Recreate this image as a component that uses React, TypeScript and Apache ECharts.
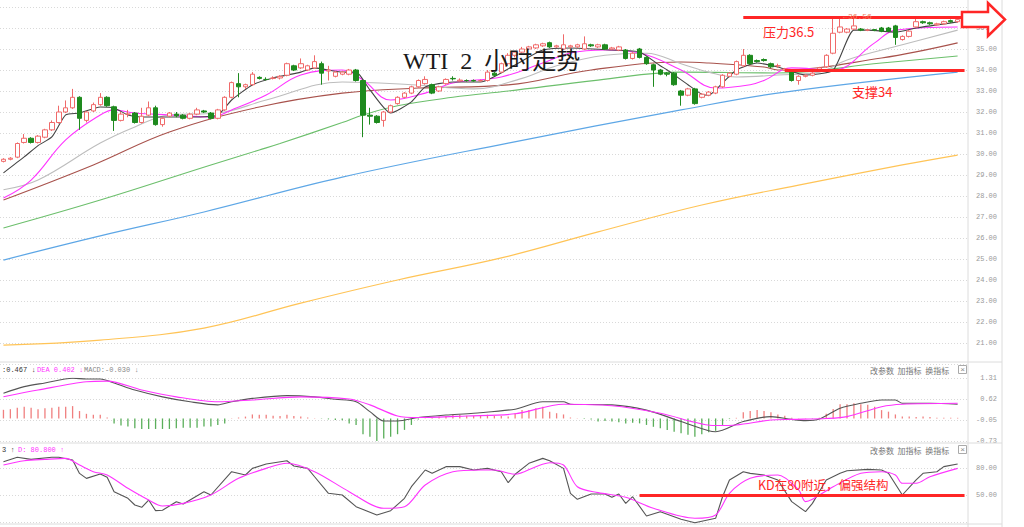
import React, { useEffect, useRef } from "react";
import * as echarts from "echarts";

// ---------- data ----------
const categories: string[] = Array.from({ length: 140 }, (_, i) => String(i));

// [open, close, low, high]
const candles: number[][] = [
  [29.65, 29.75, 29.6, 29.8], [29.75, 29.8, 29.7, 29.85], [29.85, 30.5, 29.8, 30.55], [30.55, 30.75, 30.5, 30.95],
  [30.75, 30.55, 30.5, 30.8], [30.55, 30.85, 30.5, 30.9], [30.8, 31.15, 30.75, 31.2], [31.15, 31.5, 31.1, 31.6],
  [31.5, 32.0, 31.45, 32.3], [32.0, 32.2, 31.95, 32.55], [32.2, 32.7, 32.15, 33.1], [32.7, 31.7, 31.15, 32.75],
  [31.6, 32.0, 31.5, 32.05], [32.05, 32.35, 32.0, 32.45], [32.35, 32.7, 32.3, 32.9], [32.7, 32.3, 32.25, 32.75],
  [32.25, 31.6, 31.1, 32.3], [31.6, 31.9, 31.55, 32.0], [31.9, 31.9, 31.75, 32.1], [31.95, 31.5, 31.45, 32.0],
  [31.5, 31.8, 31.45, 32.2], [31.85, 32.2, 31.8, 32.5], [32.2, 31.4, 31.35, 32.3], [31.4, 31.7, 31.3, 31.75],
  [31.8, 31.95, 31.75, 32.0], [31.9, 31.82, 31.75, 32.0], [31.85, 31.7, 31.65, 31.9], [31.7, 31.9, 31.65, 31.95],
  [31.9, 32.1, 31.85, 32.2], [32.05, 32.0, 31.95, 32.1], [31.95, 31.7, 31.65, 32.0], [31.7, 32.1, 31.65, 32.15],
  [32.1, 32.7, 32.05, 32.75], [32.7, 33.4, 32.65, 33.45], [33.35, 33.2, 32.7, 33.85], [33.2, 33.3, 33.1, 33.35],
  [33.3, 33.8, 33.25, 33.9], [33.65, 33.6, 33.55, 33.7], [33.55, 33.55, 33.5, 33.65], [33.6, 33.62, 33.55, 33.7],
  [33.62, 33.7, 33.55, 33.75], [33.75, 34.3, 33.7, 34.35], [34.2, 34.0, 33.95, 34.25], [34.1, 34.3, 34.05, 34.55],
  [34.0, 34.2, 33.95, 34.25], [34.1, 34.4, 34.05, 34.7], [34.3, 33.85, 33.3, 34.4], [33.95, 34.0, 33.5, 34.2],
  [33.7, 33.9, 33.65, 33.95], [33.8, 33.9, 33.75, 33.95], [33.8, 34.0, 33.75, 34.05], [34.0, 33.5, 33.45, 34.05],
  [33.5, 31.85, 30.8, 33.55], [31.85, 31.8, 31.4, 32.2], [31.8, 31.5, 31.45, 31.85], [31.6, 32.0, 31.3, 32.05],
  [32.0, 32.3, 31.95, 32.35], [32.4, 32.7, 32.35, 32.75], [32.7, 32.9, 32.65, 32.95], [32.9, 33.2, 32.85, 33.25],
  [33.2, 33.5, 33.15, 33.55], [33.35, 33.55, 33.3, 33.7], [33.3, 32.9, 32.85, 33.35], [33.0, 33.2, 32.95, 33.25],
  [33.35, 33.55, 33.3, 33.6], [33.6, 33.58, 33.5, 33.7], [33.48, 33.52, 33.45, 33.6], [33.5, 33.5, 33.45, 33.55],
  [33.5, 33.48, 33.45, 33.55], [33.48, 33.5, 33.45, 33.55], [33.5, 33.9, 33.45, 34.0], [33.85, 33.75, 33.7, 33.9],
  [33.9, 34.3, 33.85, 34.35], [34.3, 34.7, 34.25, 34.8], [34.7, 34.85, 34.6, 34.9], [34.85, 35.0, 34.8, 35.1],
  [35.0, 35.1, 34.95, 35.15], [35.05, 35.2, 35.0, 35.25], [35.15, 35.25, 35.1, 35.3], [35.3, 35.1, 35.05, 35.35],
  [35.1, 35.15, 35.05, 35.2], [35.0, 35.2, 34.95, 35.7], [35.1, 35.15, 35.05, 35.2], [35.1, 35.2, 35.05, 35.25],
  [35.0, 35.25, 34.95, 35.6], [35.2, 35.15, 35.1, 35.25], [35.1, 35.2, 35.05, 35.25], [35.2, 35.0, 34.95, 35.25],
  [35.0, 35.05, 34.95, 35.1], [34.95, 35.1, 34.9, 35.15], [34.95, 34.55, 34.5, 35.0], [34.55, 34.8, 34.5, 34.85],
  [35.0, 34.6, 34.55, 35.05], [34.6, 34.3, 34.25, 34.65], [34.25, 34.0, 33.2, 34.3], [34.0, 33.8, 33.75, 34.05],
  [33.85, 33.8, 33.7, 33.9], [33.85, 33.3, 33.25, 33.9], [33.0, 32.8, 32.3, 33.05], [32.8, 33.1, 32.75, 33.15],
  [33.1, 32.4, 32.35, 33.15], [32.7, 32.85, 32.65, 32.9], [32.8, 32.95, 32.75, 33.0], [32.9, 33.2, 32.85, 33.25],
  [33.2, 33.75, 33.15, 33.8], [33.7, 33.85, 33.65, 33.9], [33.8, 34.4, 33.75, 34.45], [34.2, 34.7, 34.15, 35.0],
  [34.7, 34.3, 34.25, 34.75], [34.45, 34.4, 34.35, 34.5], [34.5, 34.45, 34.4, 34.55], [34.3, 34.15, 34.1, 34.35],
  [34.2, 34.2, 34.1, 34.3], [34.0, 34.05, 33.95, 34.1], [33.9, 33.5, 33.45, 33.95], [33.5, 33.7, 33.3, 33.75],
  [33.7, 33.75, 33.65, 33.8], [33.75, 33.85, 33.7, 33.9], [33.95, 34.1, 33.9, 34.15], [34.15, 34.7, 34.1, 34.75],
  [34.8, 35.75, 34.75, 36.45], [35.8, 36.05, 35.75, 36.56], [35.8, 35.95, 35.75, 36.0], [35.95, 36.1, 35.9, 36.45],
  [35.95, 35.9, 35.85, 36.0], [35.9, 35.9, 35.85, 35.95], [35.92, 35.9, 35.85, 35.95], [36.0, 35.85, 35.8, 36.05],
  [36.0, 35.85, 35.8, 36.05], [36.1, 35.55, 35.2, 36.15], [35.45, 35.6, 35.4, 35.65], [35.6, 35.85, 35.55, 35.9],
  [36.05, 36.3, 36.0, 36.5], [36.3, 36.25, 36.2, 36.35], [36.25, 36.2, 36.15, 36.3], [36.15, 36.2, 36.1, 36.25],
  [36.2, 36.3, 36.15, 36.35], [36.35, 36.3, 36.25, 36.4], [36.3, 36.4, 36.25, 36.45],
];

// moving averages, [candle index, value]
const ma5 = [[0,29.1],[3,29.86],[5,30.4],[7,30.81],[9,31.86],[11,31.95],[14,32.24],[16,32.19],[18,31.86],[20,31.76],[23,31.76],[27,31.76],[31,31.86],[33,32.57],[36,33.29],[39,33.62],[43,33.9],[45,34.1],[49,33.9],[51,33.9],[53,33.05],[56,31.95],[59,32.48],[61,33.19],[65,33.43],[69,33.43],[74,34.24],[78,34.95],[82,35.05],[88,34.95],[92,34.86],[95,34.2],[96,34.0],[99,33.3],[101,32.85],[102,32.8],[104,33.38],[106,34.0],[109,34.33],[112,34.14],[116,33.76],[120,34.0],[123,35.9],[125,35.9],[129,35.8],[132,36.0],[138,36.29]];
const ma10 = [[0,27.9],[4,28.76],[9,30.67],[14,31.86],[16,32.1],[19,31.95],[24,31.86],[30,31.76],[33,32.1],[38,32.81],[43,33.76],[49,34.0],[52,33.52],[56,32.57],[61,32.9],[65,33.38],[72,33.67],[78,34.33],[82,34.81],[87,34.95],[92,34.81],[98,34.0],[103,33.14],[108,33.3],[110,33.5],[114,34.1],[120,34.0],[126,35.29],[129,35.9],[138,36.05]];
const ma20 = [[0,28.3],[5,28.76],[14,30.52],[19,31.29],[24,31.86],[31,31.95],[38,32.57],[49,33.43],[59,33.3],[68,33.1],[75,33.6],[80,34.2],[87,34.7],[93,34.8],[98,34.3],[102,33.9],[106,33.67],[112,33.76],[118,33.9],[122,34.48],[130,35.2],[138,35.9]];
const ma30 = [[0,27.81],[13,29.48],[24,31.05],[37,32.24],[49,32.9],[60,33.14],[73,33.29],[85,34.0],[98,34.38],[102,34.33],[110,34.14],[112,34.0],[127,34.57],[138,35.29]];
const ma60 = [[0,26.48],[14,27.81],[30,29.48],[37,30.19],[40,30.5],[49,31.5],[52,31.86],[57,32.3],[65,32.7],[73,33.0],[86,33.52],[98,33.9],[112,33.86],[127,34.33],[138,34.67]];
const ma120 = [[0,24.95],[14,26.1],[29,27.24],[49,28.9],[73,30.52],[98,32.1],[113,32.95],[138,33.9]];
const ma250 = [[0,20.9],[14,21.14],[29,21.71],[43,22.9],[57,24.0],[72,25.05],[86,26.29],[101,27.57],[115,28.52],[130,29.48],[138,29.95]];

const mainTickMin = 20;
const mainTickMax = 37;

// MACD panel
const macdTicks = ["-0.73", "-0.05", "0.62", "1.31"];
const macdHist = [
  0.28,0.30,0.35,0.38,0.35,0.30,0.33,0.35,0.38,0.38,0.40,0.24,0.15,0.12,0.12,0.03,-0.16,-0.23,-0.26,-0.32,
  -0.34,-0.34,-0.34,-0.34,-0.34,-0.32,-0.30,-0.30,-0.30,-0.26,-0.26,-0.21,-0.16,0.01,0.03,0.06,0.13,0.12,0.12,0.09,
  0.08,0.12,0.08,0.06,0.03,0.01,-0.01,-0.03,-0.05,-0.06,-0.16,-0.21,-0.51,-0.59,-0.73,-0.65,-0.59,-0.51,-0.37,-0.21,
  -0.03,0.01,0.03,0.06,0.08,0.12,0.12,0.09,0.08,0.09,0.12,0.08,0.08,0.06,0.17,0.27,0.27,0.33,0.38,0.22,
  0.17,0.13,0.03,0.01,-0.02,-0.03,-0.10,-0.08,-0.10,-0.12,-0.16,-0.14,-0.16,-0.21,-0.27,-0.32,-0.37,-0.43,-0.48,-0.53,
  -0.59,-0.51,-0.45,-0.40,-0.21,-0.02,0.02,0.20,0.24,0.27,0.24,0.20,0.13,0.09,0.02,0.01,0.01,-0.01,0.02,0.15,
  0.31,0.46,0.46,0.49,0.46,0.44,0.38,0.27,0.22,0.13,0.06,0.06,0.05,0.06,0.05,0.02,0.02,0.02,0.02,
];
const dif = [[0,0.815],[3,1.03],[6,1.15],[10,1.30],[12,1.28],[14,1.28],[16,1.15],[19,0.92],[23,0.70],[27,0.54],[31,0.44],[33,0.54],[36,0.65],[41,0.74],[45,0.70],[48,0.62],[51,0.54],[53,0.22],[55,-0.08],[57,-0.08],[60,0.03],[64,0.11],[68,0.17],[74,0.30],[78,0.54],[81,0.54],[82,0.46],[88,0.44],[93,0.27],[98,-0.10],[102,-0.40],[103,-0.43],[107,-0.10],[111,0.06],[114,-0.03],[116,-0.07],[118,-0.02],[121,0.33],[124,0.49],[127,0.60],[129,0.60],[130,0.49],[134,0.49],[138,0.46]];
const dea = [[0,0.705],[5,0.92],[12,1.19],[15,1.21],[20,0.92],[25,0.70],[31,0.54],[36,0.60],[43,0.70],[50,0.63],[53,0.44],[57,0.08],[60,0.03],[67,0.08],[74,0.15],[81,0.46],[88,0.41],[95,0.17],[103,-0.23],[106,-0.21],[111,-0.05],[114,-0.03],[119,0.0],[122,0.06],[127,0.38],[130,0.46],[138,0.49]];

// KD panel
const kdLabels = [50, 80];
const kLine = [[0,87],[2,91.9],[4,89.6],[7,91.9],[8,91.9],[10,88.9],[11,74],[12,68.5],[14,73.3],[15,69.7],[16,53.7],[18,46.3],[19,38.9],[20,36.3],[21,44.4],[22,32.6],[23,33],[25,42.6],[26,40],[29,53.7],[30,50],[33,75.9],[35,72.2],[36,79.6],[38,84.4],[41,88.1],[42,82.2],[44,79.6],[45,70.3],[47,51.9],[49,50],[51,37],[54,27.8],[56,32.6],[58,46.3],[59,59.2],[61,77.8],[62,74.1],[64,81.5],[66,81.5],[68,77.8],[70,79.6],[72,75.9],[73,63.7],[74,73],[76,85.2],[78,90.7],[79,88.1],[81,79.6],[82,51.9],[83,45.2],[85,51.1],[87,51.1],[88,47.4],[89,51.1],[90,40.7],[91,48.1],[93,26.7],[95,31.5],[98,23],[100,19.2],[103,24.1],[104,48.1],[105,66.7],[107,75.9],[108,74],[110,72.2],[112,66.7],[114,42.6],[116,31.5],[117,40.7],[119,66.7],[121,74.1],[122,77],[125,78.5],[127,77.8],[128,74.1],[130,50],[132,66.7],[133,74.1],[135,75.9],[136,81.5],[138,84.4]];
const dLine = [[0,83.3],[3,88.1],[6,89.6],[9,90.7],[11,83.3],[13,75.9],[15,72.2],[18,57.4],[21,44.4],[23,37.8],[26,40.7],[30,50],[34,68.5],[38,79.6],[41,85.2],[45,75.9],[50,53.7],[55,35.2],[58,37],[61,61.1],[65,75.9],[69,77.8],[71,77.8],[74,73],[77,81.5],[79,85.9],[81,83.3],[83,59.2],[86,52.6],[90,47.4],[94,35.2],[100,24.1],[103,27.8],[105,51.9],[108,68.5],[112,72.2],[115,55.6],[116,42.6],[117,45.2],[120,59.2],[124,74.1],[127,75.9],[129,72.2],[130,63],[132,63],[134,70.3],[138,79.6]];

// annotation levels
const resistance = 36.5;
const support = 34;
const kdLevel = 50;

// ---------- styling ----------
const RED = "#ff2626";
const GRID_LEFT = -1.5;
const GRID_RIGHT = 56;
const monoFont = "'Liberation Mono', 'DejaVu Sans Mono', monospace";
const cjkFont = "'Noto Sans CJK SC', sans-serif";
const splitStyle = { lineStyle: { color: "#d9d9d9", type: [1, 2] as any, width: 1 } };

function maSeries(name: string, data: number[][], color: string, width = 1, smooth: number | boolean = 0.4) {
  return {
    name,
    type: "line",
    xAxisIndex: 0,
    yAxisIndex: 0,
    data,
    symbol: "none",
    smooth,
    lineStyle: { color, width },
    silent: true,
    z: 3,
  };
}

function buildOption(): any {
  const xAxis = [0, 1, 2].map((g) => ({
    type: "category",
    gridIndex: g,
    data: categories,
    boundaryGap: true,
    axisLine: { show: false },
    axisTick: { show: false },
    axisLabel: { show: false },
    splitLine: { show: false },
  }));

  const labelBase = { fontSize: 7, color: "#999", fontFamily: monoFont, align: "right", margin: 29 };

  const yAxis = [
    {
      type: "value",
      gridIndex: 0,
      position: "right",
      min: mainTickMin,
      max: mainTickMax,
      interval: 1,
      axisLine: { show: false },
      axisTick: { show: false },
      axisLabel: {
        ...labelBase,
        formatter: (v: number) => (v > mainTickMin && v < mainTickMax ? v.toFixed(2) : ""),
      },
      splitLine: splitStyle,
    },
    {
      type: "value",
      gridIndex: 1,
      position: "right",
      min: -0.73,
      max: 1.31,
      interval: 0.68,
      axisLine: { show: false },
      axisTick: { show: false },
      axisLabel: {
        ...labelBase,
        formatter: (v: number) => {
          const idx = Math.round((v + 0.73) / 0.68);
          return macdTicks[idx] ?? "";
        },
      },
      splitLine: splitStyle,
    },
    {
      type: "value",
      gridIndex: 2,
      position: "right",
      min: 20,
      max: 110,
      interval: 30,
      axisLine: { show: false },
      axisTick: { show: false },
      axisLabel: {
        ...labelBase,
        formatter: (v: number) => (kdLabels.includes(Math.round(v)) ? v.toFixed(2) : ""),
      },
      splitLine: splitStyle,
    },
  ];

  const series: any[] = [
    {
      name: "K线",
      type: "candlestick",
      xAxisIndex: 0,
      yAxisIndex: 0,
      data: candles,
      barWidth: 5,
      z: 4,
      itemStyle: {
        color: "#ffffff",
        color0: "#1e8a1e",
        borderColor: "#f06a6a",
        borderColor0: "#1e8a1e",
        borderWidth: 1,
      },
      markPoint: {
        symbol: "circle",
        symbolSize: 0,
        data: [{ coord: [121, 36.56], value: 36.56 }],
        label: {
          show: true,
          position: "right",
          distance: 3,
          formatter: "←36.56",
          color: "#f08060",
          fontSize: 8,
          fontFamily: monoFont,
        },
      },
      markLine: {
        silent: true,
        symbol: ["none", "none"],
        label: { show: false },
        lineStyle: { color: RED, width: 3, type: "solid" },
        data: [
          [{ coord: [107, resistance] }, { coord: [139, resistance] }],
          [{ coord: [113, support] }, { coord: [139, support] }],
        ],
      },
    },
    maSeries("MA250", ma250, "#ffc457", 1.2),
    maSeries("MA120", ma120, "#5ea7e6", 1.2),
    maSeries("MA60", ma60, "#6cbf6c", 1.1),
    maSeries("MA30", ma30, "#a8524c", 1.1),
    maSeries("MA20", ma20, "#bdbdbd", 1.1),
    maSeries("MA10", ma10, "#ff33ff", 1.1),
    maSeries("MA5", ma5, "#444444", 1.1, 0.2),
    {
      name: "MACD",
      type: "bar",
      xAxisIndex: 1,
      yAxisIndex: 1,
      data: macdHist,
      barWidth: 1.3,
      silent: true,
      itemStyle: {
        color: (p: any) => (p.value >= 0 ? "#f07f7f" : "#5aae5a"),
      },
    },
    {
      name: "DIF",
      type: "line",
      xAxisIndex: 1,
      yAxisIndex: 1,
      data: dif,
      symbol: "none",
      smooth: 0.3,
      lineStyle: { color: "#555", width: 1.1 },
      silent: true,
    },
    {
      name: "DEA",
      type: "line",
      xAxisIndex: 1,
      yAxisIndex: 1,
      data: dea,
      symbol: "none",
      smooth: 0.3,
      lineStyle: { color: "#ff33ff", width: 1.1 },
      silent: true,
    },
    {
      name: "K",
      type: "line",
      xAxisIndex: 2,
      yAxisIndex: 2,
      data: kLine,
      symbol: "none",
      clip: false,
      lineStyle: { color: "#555", width: 1.1 },
      silent: true,
      markLine: {
        silent: true,
        symbol: ["none", "none"],
        label: { show: false },
        lineStyle: { color: RED, width: 3, type: "solid" },
        data: [[{ coord: [92, kdLevel] }, { coord: [139, kdLevel] }]],
      },
    },
    {
      name: "D",
      type: "line",
      xAxisIndex: 2,
      yAxisIndex: 2,
      data: dLine,
      symbol: "none",
      smooth: 0.3,
      lineStyle: { color: "#ff33ff", width: 1.1 },
      silent: true,
    },
  ];

  const sep = (x1: number, y1: number, x2: number, y2: number) => ({
    type: "line",
    silent: true,
    z: 1,
    shape: { x1, y1, x2, y2 },
    style: { stroke: "#dcdcdc", lineWidth: 1 },
  });

  const txt = (x: number, y: number, text: string, fill: string, fontSize: number, fontFamily: string, extra: any = {}) => ({
    type: "text",
    x,
    y,
    silent: true,
    z: 50,
    style: {
      text,
      fill,
      fontSize,
      fontFamily,
      textAlign: "left",
      textVerticalAlign: "middle",
      ...extra,
    },
  });

  const panelButtons = (y: number) => [
    txt(870, y, "改参数  加指标  换指标", "#777", 8, cjkFont),
    {
      type: "rect",
      silent: true,
      z: 50,
      shape: { x: 958.5, y: y - 4.5, width: 8, height: 8 },
      style: { fill: "#fff", stroke: "#aaa", lineWidth: 1 },
    },
    txt(960.3, y - 0.5, "×", "#888", 8, monoFont),
  ];

  const graphic: any[] = [
    sep(0, 362, 1002, 362),
    sep(0, 443, 1002, 443),
    sep(0, 524, 1002, 524),
    sep(968, 0, 968, 527),
    sep(1002, 0, 1002, 527),
    // title
    txt(403, 61, "WTI  2  小时走势", "#1a1a1a", 24, "'Liberation Serif', 'Noto Sans CJK SC', serif"),
    // annotations
    txt(763, 31, "压力36.5", RED, 13, cjkFont),
    txt(852, 91, "支撑34", RED, 13, cjkFont),
    txt(758, 484, "KD在80附近，偏强结构", RED, 12.5, cjkFont),
    {
      type: "polygon",
      silent: true,
      z: 60,
      shape: {
        points: [
          [962, 12],
          [988, 12],
          [988, 3],
          [1005, 19.5],
          [988, 36],
          [988, 27],
          [962, 27],
        ],
      },
      style: { fill: "#ffffff", stroke: RED, lineWidth: 2.5, lineJoin: "miter" },
    },
    // MACD legend
    txt(2, 370, ":0.467 ↓", "#333", 7, monoFont),
    txt(37, 370, "DEA 0.402 ↓", "#ff33ff", 7, monoFont),
    txt(84, 370, "MACD:-0.030 ↓", "#888", 7, monoFont),
    ...panelButtons(370),
    // KD legend
    txt(2, 450, "3 ↑", "#333", 7, monoFont),
    txt(18, 450, "D: 80.800 ↑", "#ff33ff", 7, monoFont),
    ...panelButtons(450),
  ];

  return {
    animation: false,
    backgroundColor: "#ffffff",
    grid: [
      { left: GRID_LEFT, right: GRID_RIGHT, top: 7, height: 357 },
      { left: GRID_LEFT, right: GRID_RIGHT, top: 378, height: 63 },
      { left: GRID_LEFT, right: GRID_RIGHT, top: 441, height: 81 },
    ],
    xAxis,
    yAxis,
    series,
    graphic,
  };
}

export default function App() {
  const ref = useRef<HTMLDivElement>(null);
  useEffect(() => {
    if (!ref.current) return;
    const chart = echarts.init(ref.current, null, { renderer: "svg" });
    chart.setOption(buildOption());
    return () => chart.dispose();
  }, []);
  return (
    <div
      ref={ref}
      style={{ position: "absolute", left: 0, top: 0, width: 1024, height: 527, background: "#fff" }}
    />
  );
}
